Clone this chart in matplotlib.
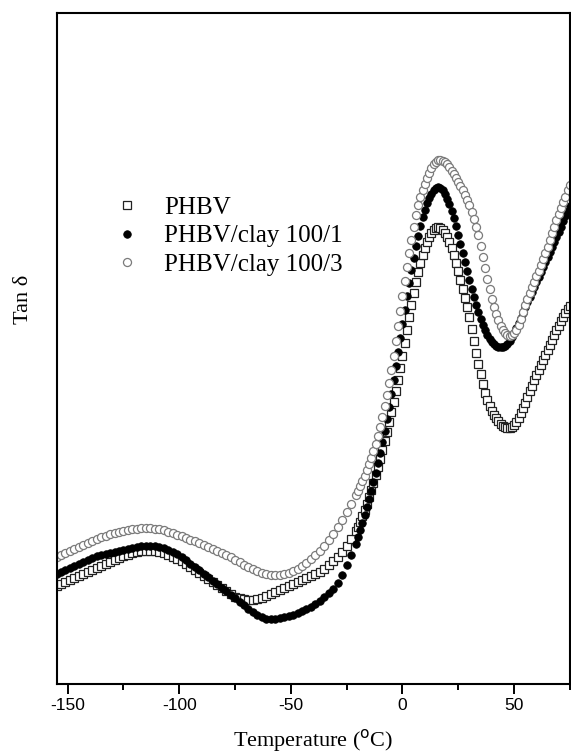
import numpy as np
import matplotlib
matplotlib.use("Agg")
import matplotlib.pyplot as plt
from matplotlib.lines import Line2D

plt.rcParams['axes.unicode_minus'] = False

# temperature grid of the DMA scan: every 2 C in the low range, every 1 C above -20 C
temp = list(range(-155, -20, 2)) + list(range(-20, 76))

# tan delta, arbitrary units (the y axis carries no scale in the figure)
phbv = [
    98, 100, 102, 104, 106, 108, 110, 112, 114, 116, 118, 120, 122, 124, 126, 128, 129,
    131, 132, 133, 133, 133, 133, 132, 131, 129, 127, 125, 123, 120, 117, 114, 111, 108,
    105, 102, 99, 96, 93, 90, 87, 86, 85, 84, 84, 85, 86, 88, 90, 92, 94, 96, 98, 100,
    102, 104, 106, 108, 110, 112, 115, 119, 123, 127, 132, 138, 145, 153,
    157, 162, 168, 174, 180, 187, 194, 201, 209, 217, 225, 234, 243, 252, 262, 272,
    282, 293, 304, 316, 328, 341, 354, 367, 379, 391, 402, 412, 421, 429, 436, 442,
    447, 451, 454, 456, 457, 456, 454, 451, 447, 442, 436, 429, 421, 413, 404, 395,
    386, 377, 367, 355, 343, 331, 320, 310, 300, 291, 284, 278, 273, 269, 266, 263,
    260, 258, 257, 256, 256, 257, 259, 262, 266, 271, 276, 281, 287, 293, 298, 304,
    309, 314, 319, 324, 329, 334, 339, 344, 349, 354, 358, 363, 367, 371, 375, 378,
]
clay1 = [
    110, 112, 114, 116, 118, 120, 122, 124, 126, 128, 129, 130, 131, 132, 133, 134, 135,
    136, 137, 138, 138, 138, 138, 137, 136, 134, 132, 130, 127, 124, 120, 117, 114, 110,
    107, 103, 100, 96, 93, 89, 86, 82, 79, 75, 72, 69, 67, 65, 65, 65, 66, 67, 68, 69,
    71, 73, 75, 77, 80, 83, 87, 91, 95, 101, 109, 119, 129, 140,
    147, 154, 161, 169, 177, 185, 193, 202, 211, 221, 231, 242, 253, 265, 277, 290,
    304, 318, 332, 346, 360, 374, 388, 401, 414, 426, 438, 448, 458, 467, 474, 481,
    487, 491, 495, 497, 498, 497, 495, 491, 486, 480, 473, 466, 458, 449, 440, 431,
    422, 413, 404, 395, 387, 379, 372, 365, 359, 354, 349, 345, 342, 340, 338, 337,
    337, 337, 338, 340, 343, 347, 351, 356, 361, 366, 371, 377, 382, 387, 392, 397,
    402, 407, 412, 417, 422, 427, 432, 437, 442, 447, 452, 457, 463, 468, 473, 478,
]
clay3 = [
    127, 129, 131, 133, 135, 137, 139, 141, 143, 145, 147, 148, 150, 151, 152, 153, 154,
    155, 155, 156, 156, 156, 155, 155, 154, 152, 151, 149, 148, 146, 144, 143, 141, 139,
    137, 135, 133, 131, 129, 127, 124, 122, 119, 117, 115, 113, 111, 110, 109, 109, 109,
    110, 111, 113, 115, 118, 121, 125, 129, 133, 138, 144, 150, 157, 164, 172, 180, 189,
    193, 198, 203, 208, 214, 220, 226, 233, 240, 248, 257, 267, 278, 289, 301, 314,
    328, 343, 358, 373, 388, 403, 417, 431, 444, 457, 469, 479, 488, 495, 501, 507,
    512, 517, 521, 523, 525, 525, 524, 523, 521, 518, 514, 511, 507, 503, 499, 495,
    490, 485, 479, 472, 465, 457, 449, 438, 427, 416, 405, 395, 385, 377, 370, 364,
    358, 354, 351, 349, 348, 349, 351, 354, 359, 365, 372, 379, 385, 391, 397, 402,
    408, 413, 419, 425, 431, 437, 444, 451, 457, 464, 470, 476, 482, 488, 495, 500,
]
labels = ['PHBV', 'PHBV/clay 100/1', 'PHBV/clay 100/3']

sq_style = dict(ls='none', marker='s', ms=5.8, mfc='white', mec='#222222', mew=0.9)
fill_style = dict(ls='none', marker='o', ms=5.4, mfc='black', mec='black', mew=0.6)
open_style = dict(ls='none', marker='o', ms=5.8, mfc='white', mec='#7a7a7a', mew=0.9)

fig = plt.figure(figsize=(5.71, 7.53), dpi=100)
ax = fig.add_axes([0.099, 0.092, 0.899, 0.891])

ax.plot(temp, phbv, **sq_style)
ax.plot(temp, clay1, **fill_style)
ax.plot(temp, clay3, **open_style)

ax.set_xlim(-155, 75)
ax.set_ylim(0, 672)
ax.set_xticks([-150, -100, -50, 0, 50])
ax.set_xticks([-125, -75, -25, 25, 75], minor=True)
ax.set_yticks([])
ax.tick_params(axis='x', which='major', direction='out', length=7, width=1.4,
               labelsize=12.5, pad=3)
ax.tick_params(axis='x', which='minor', direction='out', length=4, width=1.4)
for lab in ax.get_xticklabels():
    lab.set_fontfamily('Liberation Sans')
for sp in ax.spines.values():
    sp.set_linewidth(1.5)

ax.set_xlabel('Temperature ($^{\\mathrm{o}}$C)', fontsize=16, family='Liberation Serif',
              labelpad=10)
ax.set_ylabel('Tan δ', fontsize=16, family='Liberation Serif')
ax.yaxis.set_label_coords(-0.045, 0.573)

handles = [Line2D([], [], **sq_style), Line2D([], [], **fill_style),
           Line2D([], [], **open_style)]
ax.legend(handles, labels, loc='upper left', bbox_to_anchor=(0.088, 0.745), frameon=False,
          prop={'family': 'Liberation Serif', 'size': 18}, handlelength=1.0,
          handletextpad=1.0, labelspacing=0.24, borderpad=0)

fig.savefig('out.png', dpi=100)
